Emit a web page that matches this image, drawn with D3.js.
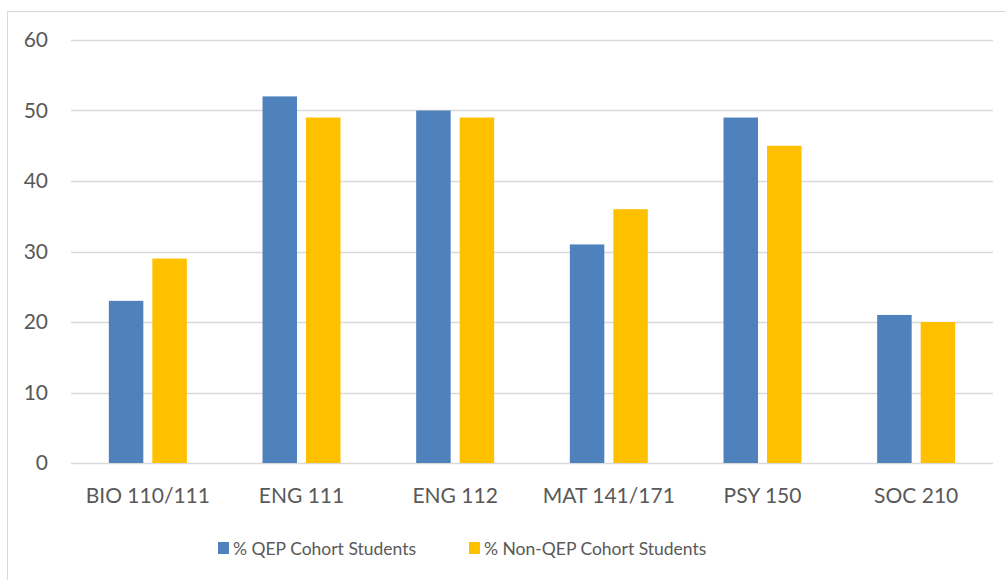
<!DOCTYPE html>
<html>
<head>
<meta charset="utf-8">
<script src="https://cdn.jsdelivr.net/npm/d3@7"></script>
<style>
  body { margin: 0; background: #fff; }
  svg { display: block; }
</style>
</head>
<body>
<svg id="chart"></svg>
<script>
// data
const categories = ["BIO 110/111", "ENG 111", "ENG 112", "MAT 141/171", "PSY 150", "SOC 210"];
const seriesNames = ["% QEP Cohort Students", "% Non-QEP Cohort Students"];
const qepValues = [23, 52, 50, 31, 49, 21];
const nonQepValues = [29, 49, 49, 36, 45, 20];
const yTicks = [0, 10, 20, 30, 40, 50, 60];

const colors = ["#4F81BD", "#FFC000"];
const textColor = "#595959";
const gridColor = "#D9D9D9";
const font = "Lato, 'Open Sans', sans-serif";

const width = 1006, height = 580;
const plot = { left: 71, right: 993, top: 40, bottom: 463 };

const svg = d3.select("#chart").attr("width", width).attr("height", height);

// outer chart border
svg.append("rect")
  .attr("x", 7.5).attr("y", 11.5)
  .attr("width", 1010).attr("height", 600)
  .attr("fill", "none")
  .attr("stroke", gridColor)
  .attr("stroke-width", 1);

const y = d3.scaleLinear().domain([0, 60]).range([plot.bottom, plot.top]);
const x0 = d3.scaleBand().domain(categories).range([plot.left, plot.right]).padding(0);
const x1 = d3.scaleBand().domain(seriesNames).range([0, x0.bandwidth()])
  .paddingInner(0.207).paddingOuter(0.87);

// gridlines
svg.append("g")
  .selectAll("line")
  .data(yTicks)
  .join("line")
  .attr("x1", plot.left).attr("x2", plot.right)
  .attr("y1", d => Math.round(y(d)) + 0.5)
  .attr("y2", d => Math.round(y(d)) + 0.5)
  .attr("stroke", gridColor)
  .attr("stroke-width", 1.5);

// y axis labels
const yAxis = svg.append("g")
  .attr("transform", `translate(${plot.left - 23},0)`)
  .call(d3.axisLeft(y).tickValues(yTicks).tickSize(0).tickPadding(0));
yAxis.select(".domain").remove();
yAxis.selectAll("text")
  .attr("fill", textColor)
  .attr("font-family", font)
  .attr("font-size", "21px");

// bars
const rows = categories.map((c, i) => ({ cat: c, vals: [qepValues[i], nonQepValues[i]] }));
const groups = svg.append("g")
  .selectAll("g")
  .data(rows)
  .join("g")
  .attr("transform", d => `translate(${x0(d.cat)},0)`);

groups.selectAll("rect")
  .data(d => d.vals.map((v, j) => ({ name: seriesNames[j], v, j })))
  .join("rect")
  .attr("x", d => x1(d.name))
  .attr("width", x1.bandwidth())
  .attr("y", d => y(d.v))
  .attr("height", d => y(0) - y(d.v))
  .attr("fill", d => colors[d.j]);

// x axis labels
const xAxis = svg.append("g")
  .attr("transform", `translate(0,${plot.bottom + 25})`)
  .call(d3.axisBottom(x0).tickSize(0).tickPadding(0));
xAxis.select(".domain").remove();
xAxis.selectAll("text")
  .attr("fill", textColor)
  .attr("font-family", font)
  .attr("font-size", "21px");

// legend
const legendX = [218, 469];
const legend = svg.append("g")
  .selectAll("g")
  .data(seriesNames)
  .join("g")
  .attr("transform", (d, i) => `translate(${legendX[i]},542)`);

legend.append("rect")
  .attr("width", 11).attr("height", 12)
  .attr("fill", (d, i) => colors[i]);

legend.append("text")
  .attr("x", 15)
  .attr("y", 13)
  .attr("fill", textColor)
  .attr("font-family", font)
  .attr("font-size", "17.5px")
  .text(d => d);
</script>
</body>
</html>
